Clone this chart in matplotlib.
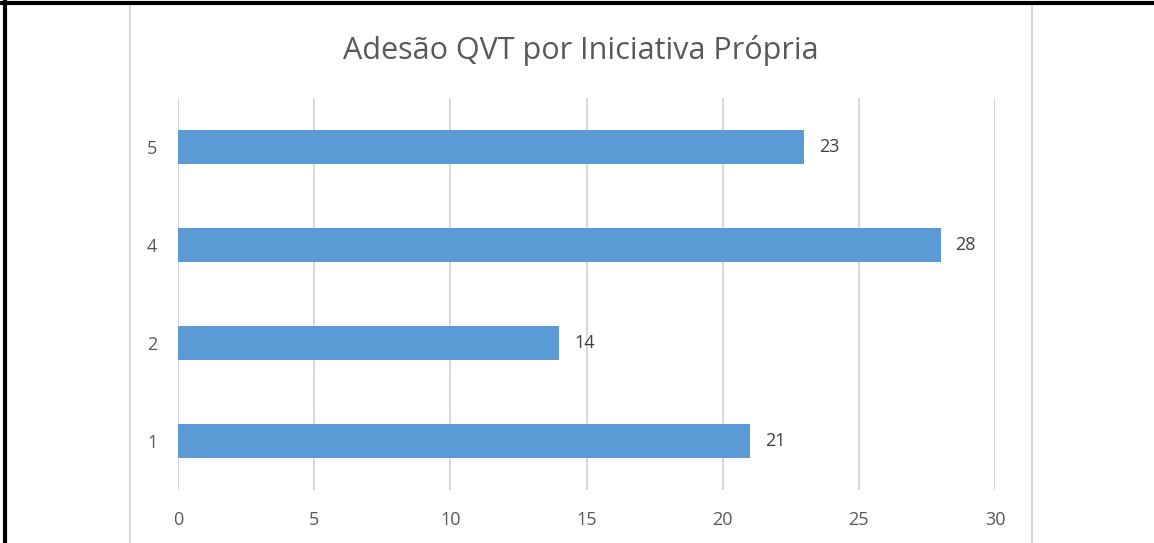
import matplotlib
matplotlib.use("Agg")
from matplotlib import pyplot as plt
from matplotlib.patches import Rectangle
from matplotlib.lines import Line2D

# data (bottom to top)
categories = ['1', '2', '4', '5']
values = [21, 14, 28, 23]
xticks = [0, 5, 10, 15, 20, 25, 30]

plt.rcParams['font.family'] = ['Open Sans', 'DejaVu Sans']
textColor = '#595959'
gridColor = '#D9D9D9'
barColor = '#5B9BD5'

W, H = 1154, 543
fig = plt.figure(figsize=(W / 100, H / 100), dpi=100)

#chart frame and page borders
fig.patches.append(Rectangle((130 / W, -0.05), (1032 - 130) / W, 1 - 3 / H + 0.05,
                             transform=fig.transFigure, facecolor='white',
                             edgecolor=gridColor, linewidth=1.5, zorder=-5))
fig.lines.append(Line2D([0, 1], [1 - 2.5 / H, 1 - 2.5 / H], transform=fig.transFigure,
                        color='black', linewidth=3))
fig.lines.append(Line2D([4.5 / W, 4.5 / W], [0, 1], transform=fig.transFigure,
                        color='black', linewidth=3))

ax = fig.add_axes([178 / W, 1 - 490 / H, (995 - 178) / W, (490 - 98) / H])
ax.set_zorder(5)
ax.set_facecolor('none')
pos = list(range(len(categories)))
ax.barh(pos, values, height=0.34, color=barColor, zorder=2)
for p, v in zip(pos, values):
    ax.text(v + 0.55, p, str(v), va='center', ha='left', fontsize=13, color='#404040')

ax.set_xlim(0, 30)
ax.set_ylim(-0.5, len(categories) - 0.5)
ax.set_xticks(xticks)
ax.set_yticks(pos)
ax.set_yticklabels(categories)
ax.xaxis.grid(True, color=gridColor, linewidth=1.5, zorder=0)
ax.set_axisbelow(True)
for s in ax.spines.values():
    s.set_visible(False)
ax.tick_params(axis='both', length=0, labelsize=13, colors=textColor)
ax.tick_params(axis='x', pad=15)
ax.tick_params(axis='y', pad=15)

fig.text(581 / W, 1 - 50 / H, 'Adesão QVT por Iniciativa Própria', ha='center', va='center',
         fontsize=22, color=textColor)

fig.savefig('out.png', dpi=100)
